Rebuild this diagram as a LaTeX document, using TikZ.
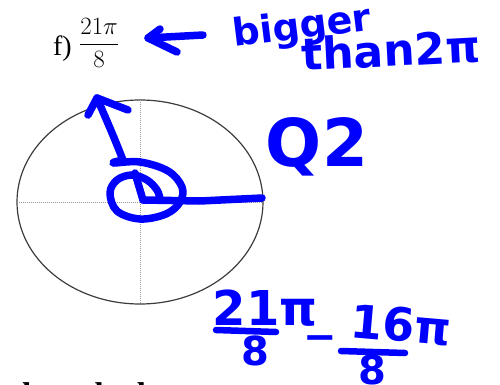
\documentclass[tikz,border=0pt]{standalone}
\usepackage{fontspec}
\setmainfont{Liberation Serif}
\newfontfamily\handfont{DejaVu Sans}
\usepackage{tikz}
\usetikzlibrary{positioning}

\definecolor{inkblue}{RGB}{0,0,255}
\definecolor{rimgray}{RGB}{60,60,60}

\begin{document}
\begin{tikzpicture}[
  x=1pt, y=-1pt,
  ink/.style={draw=inkblue, line width=7.5pt, line cap=round, line join=round},
  hand/.style={text=inkblue, inner sep=0pt, font=\handfont\bfseries\fontsize{#1}{#1}\selectfont},
  hand/.default=46,
  axisline/.style={draw=gray!80, densely dotted, line width=1pt},
  fracbar/.style={draw=inkblue, line width=6.5pt, line cap=round},
]
\path[use as bounding box, clip] (0,0) rectangle (500,385);

% printed part of the exercise
\node[anchor=base east, inner sep=0pt, font=\fontsize{28}{30}\selectfont] (partlabel) at (72,56) {f)};
\node[anchor=west, inner sep=0pt, font=\fontsize{30}{34}\selectfont] (givenfrac) at (79,43) {$\displaystyle\frac{21\pi}{8}$};
\node[anchor=base west, inner sep=0pt, font=\bfseries\fontsize{33}{36}\selectfont] (nexttext) at (11,405) {the calculator};

% unit circle with its axes
\coordinate (origin) at (140,202);
\draw[rimgray, line width=1.2pt] (origin) ellipse [x radius=123, y radius=102];
\draw[axisline] (17,202) -- (263,202);
\draw[axisline] (140,100) -- (140,304);

% handwritten notes
\coordinate (arrowtail) at (203,35);
\coordinate (arrowtip) at (148,38);
\draw[ink] (arrowtail) -- (arrowtip);
\draw[ink] (160,29) -- (arrowtip) -- (177,52);
\node[hand=38, rotate=7, anchor=base west] (bignote) at (234,47) {bigger};
\node[hand=44, rotate=3, anchor=base west] (thannote) at (302,71) {than2π};
\node[hand=66, anchor=center] (quadnote) at (317,147) {Q2};

% angle drawn on the circle
\draw[ink] (origin) ++(3,-2) -- (200,201) -- (262,198);
\draw[ink] (135,173) -- (143,200);
\draw[ink] plot[smooth, tension=0.6] coordinates {(160,199) (157,190) (147,180) (132,175) (117,180) (110,193) (117,211) (140,219) (166,214) (180,202) (182,187) (168,171) (140,162) (113,163) (123,160)};
\draw[ink] (123,160) .. controls (113,135) .. (97,98);
\draw[ink] (88,115) -- (97,98) -- (128,110);

% handwritten subtraction
\node[hand=48, anchor=center] (leftnum) at (265,308) {21π};
\node[hand=40, anchor=center] (leftden) at (255,351) {8};
\draw[fracbar] (216,330) -- (276,332);
\node[hand=40, anchor=center] (minussign) at (320,343) {−};
\node[hand=46, rotate=-5, anchor=center] (rightnum) at (401,325) {16π};
\node[hand=40, anchor=center] (rightden) at (372,370) {8};
\draw[fracbar] (341,351) -- (405,353);
\end{tikzpicture}
\end{document}
